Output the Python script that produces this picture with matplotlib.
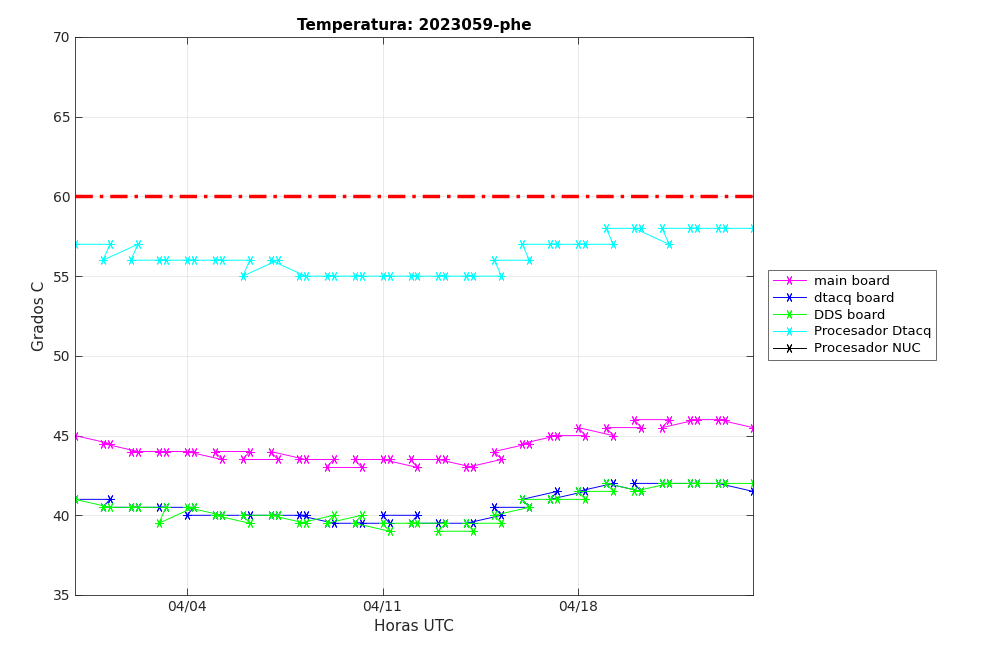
import pandas as pd
import matplotlib
matplotlib.use('Agg')
import matplotlib.pyplot as plt
import matplotlib.dates as mdates

# timestamps in the order they appear in the log (06h sample listed before 00h each day)
times = ['03-31 00:00',
         '04-01 06:00', '04-01 00:00', '04-02 06:00', '04-02 00:00',
         '04-03 06:00', '04-03 00:00', '04-04 06:00', '04-04 00:00',
         '04-05 06:00', '04-05 00:00', '04-06 06:00', '04-06 00:00',
         '04-07 06:00', '04-07 00:00', '04-08 06:00', '04-08 00:00',
         '04-09 06:00', '04-09 00:00', '04-10 06:00', '04-10 00:00',
         '04-11 06:00', '04-11 00:00', '04-12 06:00', '04-12 00:00',
         '04-13 06:00', '04-13 00:00', '04-14 06:00', '04-14 00:00',
         '04-15 06:00', '04-15 00:00', '04-16 06:00', '04-16 00:00',
         '04-17 06:00', '04-17 00:00', '04-18 06:00', '04-18 00:00',
         '04-19 06:00', '04-19 00:00', '04-20 06:00', '04-20 00:00',
         '04-21 06:00', '04-21 00:00', '04-22 06:00', '04-22 00:00',
         '04-23 06:00', '04-23 00:00',
         '04-24 06:00']

main_board = [45,
              44.5, 44.5, 44, 44, 44, 44, 44, 44,
              43.5, 44, 44, 43.5, 43.5, 44, 43.5, 43.5,
              43.5, 43, 43, 43.5, 43.5, 43.5, 43, 43.5,
              43.5, 43.5, 43, 43, 43.5, 44, 44.5, 44.5,
              45, 45, 45, 45.5, 45, 45.5, 45.5, 46,
              46, 45.5, 46, 46, 46, 46,
              45.5]

dtacq_board = [41,
               41, 40.5, 40.5, 40.5, 40.5, 40.5, 40.5, 40,
               40, 40, 40, 40, 40, 40, 40, 40,
               39.5, 39.5, 39.5, 39.5, 39.5, 40, 40, 39.5,
               39.5, 39.5, 39.5, 39.5, 40, 40.5, 40.5, 41,
               41.5, 41, 41.5, 41.5, 42, 42, 41.5, 42,
               42, 42, 42, 42, 42, 42,
               41.5]

dds_board = [41,
             40.5, 40.5, 40.5, 40.5, 40.5, 39.5, 40.5, 40.5,
             40, 40, 39.5, 40, 40, 40, 39.5, 39.5,
             40, 39.5, 40, 39.5, 39, 39.5, 39.5, 39.5,
             39.5, 39, 39, 39.5, 39.5, 40, 40.5, 41,
             41, 41, 41, 41.5, 41.5, 42, 41.5, 41.5,
             42, 42, 42, 42, 42, 42,
             42]

proc_dtacq = [57,
              57, 56, 57, 56, 56, 56, 56, 56,
              56, 56, 56, 55, 56, 56, 55, 55,
              55, 55, 55, 55, 55, 55, 55, 55,
              55, 55, 55, 55, 55, 56, 56, 57,
              57, 57, 57, 57, 57, 58, 58, 58,
              57, 58, 58, 58, 58, 58,
              58]

proc_nuc = [float('nan')] * len(times)  # no readings in this period

limite = 60

t = pd.to_datetime(['2023-' + s for s in times], format='%Y-%m-%d %H:%M')

fig = plt.figure(figsize=(10.08, 6.61), dpi=100)
ax = fig.add_axes([75/1008, 1-595/661, (753-75)/1008, (595-37)/661])

mk = (6, 2, 30)
kw = dict(marker=mk, ms=6.5, mew=0.7, lw=0.7)
ax.plot(t, main_board, color='#ff00ff', label='main board', **kw)
ax.plot(t, dtacq_board, color='#0000ff', label='dtacq board', **kw)
ax.plot(t, dds_board, color='#00ff00', label='DDS board', **kw)
ax.plot(t, proc_dtacq, color='#00ffff', label='Procesador Dtacq', **kw)
ax.plot(t, proc_nuc, color='black', label='Procesador NUC', **kw)
ax.axhline(limite, color='red', lw=2.5, ls=(0, (5, 2, 1, 2)))

ax.set_xlim(t.min(), t.max())
ax.set_ylim(35, 70)
ax.set_yticks(range(35, 71, 5))
ax.xaxis.set_major_locator(mdates.WeekdayLocator(byweekday=mdates.TU))
ax.xaxis.set_major_formatter(mdates.DateFormatter('%m/%d'))

ax.grid(True, color='#e5e5e5', lw=0.6)
ax.set_axisbelow(True)
ax.tick_params(direction='in', top=True, right=True, length=5, width=0.6,
               labelsize=10, colors='#262626')
for s in ax.spines.values():
    s.set_color('#262626')
    s.set_linewidth(0.6)

ax.set_title('Temperatura: 2023059-phe', fontsize=11, fontweight='bold', pad=5)
ax.set_xlabel('Horas UTC', fontsize=11, color='#262626')
ax.set_ylabel('Grados C', fontsize=11, color='#262626')

leg = ax.legend(loc='upper left', bbox_to_anchor=(768/1008, 1-270/661),
                bbox_transform=fig.transFigure, fontsize=9.5, frameon=True,
                fancybox=False, borderaxespad=0, handlelength=2.5,
                handletextpad=0.6, labelspacing=0.3, borderpad=0.35)
leg.get_frame().set_edgecolor('#262626')
leg.get_frame().set_linewidth(0.6)

fig.savefig('out.png', dpi=100)
